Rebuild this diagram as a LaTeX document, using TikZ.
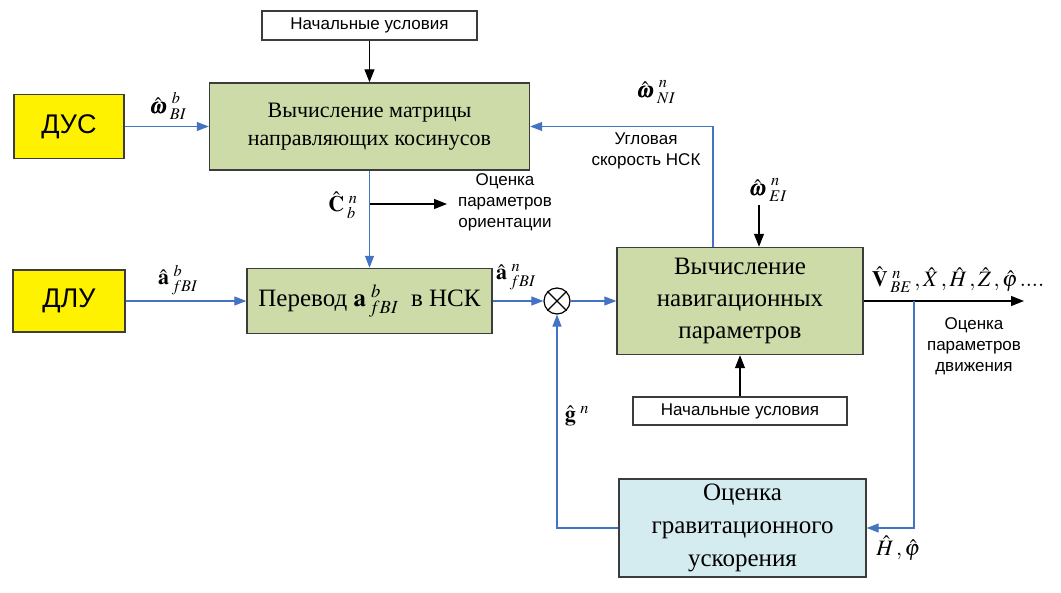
\documentclass[tikz,border=0pt]{standalone}
\usepackage{mathptmx}
\usepackage{bm}
\usepackage{fontspec}
\setmainfont{Liberation Serif}
\setsansfont{Liberation Sans}
\usetikzlibrary{arrows.meta}
\definecolor{boxgreen}{RGB}{204,219,168}
\definecolor{lineblue}{RGB}{68,114,196}
\definecolor{boxcyan}{RGB}{212,235,240}
\definecolor{edgegray}{RGB}{60,60,60}
\newcommand{\sps}[1]{^{\mkern5mu #1}}
\newcommand{\sbs}[1]{_{\mkern3mu #1}}
\tikzset{
  box/.style={draw=edgegray, line width=1.4pt, inner sep=0pt, align=center},
  gbox/.style={box, fill=boxgreen},
  ybox/.style={box, fill=yellow, font=\sffamily\fontsize{27}{30}\selectfont},
  wbox/.style={box, line width=1.1pt, fill=white, font=\sffamily\fontsize{17}{20}\selectfont},
  bl/.style={draw=lineblue, line width=1.1pt, -{Triangle[length=12pt,width=9pt]}},
  bk/.style={draw=black, line width=1.2pt, -{Triangle[length=13pt,width=10pt]}},
  lbl/.style={font=\fontsize{22}{24}\selectfont, inner sep=0pt},
  note/.style={font=\sffamily\fontsize{17}{21}\selectfont, align=center, inner sep=0pt}
}
\begin{document}
\begin{tikzpicture}[x=1pt,y=-1pt]
\path[use as bounding box] (0,0) rectangle (1061,593);
% blocks
\node[wbox, minimum width=215pt, minimum height=29pt] (nu1) at (369.5,25.5) {Начальные условия};
\node[gbox, minimum width=320pt, minimum height=87pt, font=\fontsize{22}{28}\selectfont] (dcm) at (369.5,126.5) {Вычисление матрицы\\направляющих косинусов};
\node[ybox, minimum width=110pt, minimum height=64pt] (dus) at (69,126.5) {ДУС};
\node[ybox, minimum width=112pt, minimum height=62pt] (dlu) at (69,301) {ДЛУ};
\node[gbox, minimum width=245pt, minimum height=65pt, font=\fontsize{25}{28}\selectfont] (conv) at (369.5,301) {Перевод $\mathbf a\sps{b}\sbs{fBI}$\ \ в НСК};
\node[draw=black, circle, minimum size=26pt, line width=1.2pt, inner sep=0pt] (sum) at (557,301) {};
\draw[line width=1.2pt] (sum.north west) -- (sum.south east) (sum.north east) -- (sum.south west);
\node[gbox, minimum width=246pt, minimum height=107pt, font=\fontsize{25}{32}\selectfont] (nav) at (740,301) {Вычисление\\навигационных\\параметров};
\node[wbox, minimum width=214pt, minimum height=28pt] (nu2) at (740,411) {Начальные условия};
\node[box, fill=boxcyan, minimum width=247pt, minimum height=98pt, font=\fontsize{25}{33}\selectfont] (grav) at (742.5,528) {Оценка\\гравитационного\\ускорения};
% free ends
\coordinate (cb) at (369.5,204);
\coordinate (ori) at (447,204);
\coordinate (ei) at (759,205);
\coordinate (out) at (1024,301);
\coordinate (br) at (914,301);
% connectors
\draw[bk] (nu1) -- (dcm);
\draw[bl] (dus) -- (dcm);
\draw[bl] (dcm) -- (conv);
\draw[bk] (cb) -- (ori);
\draw[bl] (dlu) -- (conv);
\draw[bl] (conv) -- (sum);
\draw[bl] (sum) -- (nav);
\draw[bl] ([xshift=-27pt]nav.north) |- (dcm.east);
\draw[bk] (ei) -- (ei |- nav.north);
\draw[bk] (nu2) -- (nav);
\draw[bk] (nav) -- (out);
\draw[bl] (br) |- (grav.east);
\draw[bl] (grav.west) -| (sum.south);
% labels
\node[lbl] (l1) at (168,106) {$\hat{\bm\omega}\sps{b}\sbs{BI}$};
\node[lbl] (l2) at (178,280) {$\hat{\mathbf a}\sps{b}\sbs{fBI}$};
\node[lbl] (l3) at (343,205) {$\hat{\mathbf C}\sps{n}\sbs{b}$};
\node[lbl] (l4) at (516,277) {$\hat{\mathbf a}\sps{n}\sbs{fBI}$};
\node[lbl] (l5) at (577,416) {$\hat{\mathbf g}\sps{n}$};
\node[lbl] (l6) at (656,92) {$\hat{\bm\omega}\sps{n}\sbs{NI}$};
\node[lbl] (l7) at (768,190) {$\hat{\bm\omega}\sps{n}\sbs{EI}$};
\node[lbl] (l8) at (958,280) {$\hat{\mathbf V}\sps{n}\sbs{BE}\,,\hat{X}\,,\hat{H}\,,\hat{Z}\,,\hat{\varphi}\,....$};
\node[lbl] (l9) at (898,548) {$\hat{H}\,,\hat{\varphi}$};
\node[note] (n1) at (505,202) {Оценка\\параметров\\ориентации};
\node[note] (n2) at (646,151) {Угловая\\скорость НСК};
\node[note] (n3) at (974,346) {Оценка\\параметров\\движения};
\end{tikzpicture}
\end{document}
